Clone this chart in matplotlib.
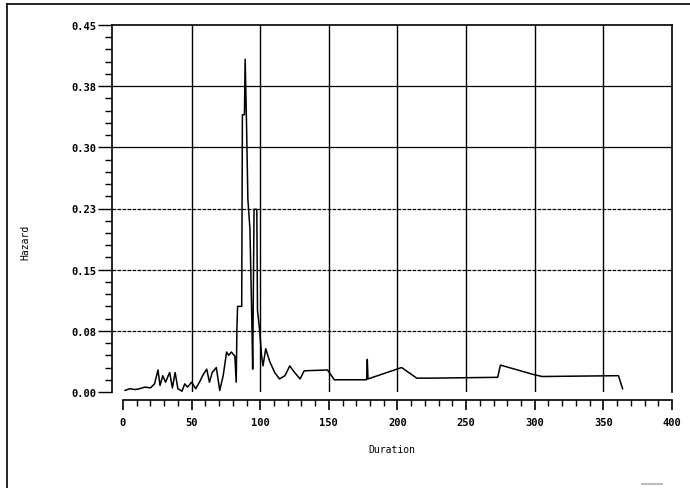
import numpy as np
import matplotlib
matplotlib.use("Agg")
import matplotlib.pyplot as plt
from matplotlib.lines import Line2D
from matplotlib.ticker import MultipleLocator

# estimated hazard curve
duration = [1.5, 5, 9, 12, 16, 20, 23, 25.5, 27, 29, 31, 34, 36, 38, 40, 43, 45, 47,
            50, 53, 56, 58, 61, 63, 65, 68, 70.5, 73, 75.5, 77, 79, 81.5, 82.5, 83,
            83.5, 86.5, 87, 88.5, 89, 90, 91, 92.5, 94, 94.5, 95.5, 97.5, 98, 99.5,
            101, 102, 104, 107, 110.5, 114, 118, 121.5, 125, 129, 132, 149, 154,
            177.5, 178, 178.5, 203, 214, 225, 273, 275, 300, 305.5, 361, 364]
hazard = [0.002, 0.004, 0.003, 0.004, 0.006, 0.005, 0.010, 0.027, 0.008, 0.020,
          0.012, 0.024, 0.005, 0.024, 0.004, 0.001, 0.010, 0.006, 0.012, 0.004,
          0.013, 0.020, 0.028, 0.012, 0.024, 0.030, 0.002, 0.020, 0.049, 0.045,
          0.049, 0.044, 0.012, 0.077, 0.105, 0.105, 0.340, 0.340, 0.408, 0.330,
          0.236, 0.200, 0.077, 0.028, 0.224, 0.224, 0.100, 0.077, 0.044, 0.032,
          0.053, 0.037, 0.024, 0.016, 0.020, 0.032, 0.024, 0.016, 0.026, 0.027,
          0.015, 0.015, 0.040, 0.016, 0.030, 0.017, 0.017, 0.018, 0.033, 0.021,
          0.019, 0.020, 0.004]

x_ticks = [0, 50, 100, 150, 200, 250, 300, 350, 400]
y_ticks = [0.0, 0.075, 0.15, 0.225, 0.30, 0.375, 0.45]
y_tick_labels = ["0.00", "0.08", "0.15", "0.23", "0.30", "0.38", "0.45"]

W, H = 690, 489
fig = plt.figure(figsize=(W / 100, H / 100), dpi=100)
ax = fig.add_axes([112 / W, 1 - 393 / H, (672 - 112) / W, (393 - 26) / H])

mono = {"family": "DejaVu Sans Mono", "size": 7.5, "weight": "bold"}

# grid lines inside the box only (the lower ones came out dotted on the scan)
for xv in x_ticks[1:-1]:
    ax.axvline(xv, color="black", lw=1.0, zorder=1)
for yv, ls in zip(y_ticks[1:-1], [(0, (3, 1)), (0, (3, 1)), (0, (3, 1)), "-", "-"]):
    ax.axhline(yv, color="black", lw=0.9, ls=ls, zorder=1)

ax.plot(duration, hazard, color="black", lw=1.1, zorder=3)

ax.set_xlim(-8, 400)
ax.set_ylim(0, 0.45)

ax.spines["bottom"].set_position(("outward", 6))
ax.spines["bottom"].set_bounds(0, 400)
for s in ax.spines.values():
    s.set_linewidth(1.2)

ax.set_xticks(x_ticks)
ax.set_xticklabels([str(v) for v in x_ticks], fontdict=mono)
ax.set_yticks(y_ticks)
ax.set_yticklabels(y_tick_labels, fontdict=mono)
ax.xaxis.set_minor_locator(MultipleLocator(10))
ax.yaxis.set_minor_locator(MultipleLocator(0.015))
ax.tick_params(axis="x", which="major", direction="out", length=7, width=1.2, pad=5)
ax.tick_params(axis="x", which="minor", direction="out", length=4, width=1.0)
ax.tick_params(axis="y", which="major", direction="out", length=10, width=1.0, pad=1)
ax.tick_params(axis="y", which="minor", direction="out", length=5, width=1.0)

ax.set_xlabel("Duration", fontdict={"family": "DejaVu Sans Mono", "size": 7}, labelpad=12)
ax.set_ylabel("Hazard", fontdict={"family": "DejaVu Sans Mono", "size": 7})
ax.yaxis.set_label_coords(-0.146, 0.41)

# page border from the scan
fig.add_artist(Line2D([7 / W, 1.0], [1 - 5 / H, 1 - 5 / H], transform=fig.transFigure,
                      color="black", lw=1.2))
fig.add_artist(Line2D([7 / W, 7 / W], [0.0, 1 - 5 / H], transform=fig.transFigure,
                      color="black", lw=1.2))
fig.add_artist(Line2D([642 / W, 662 / W], [1 - 485 / H, 1 - 485 / H], transform=fig.transFigure,
                      color="#bbbbbb", lw=1.5))

fig.savefig("out.png", dpi=100)
